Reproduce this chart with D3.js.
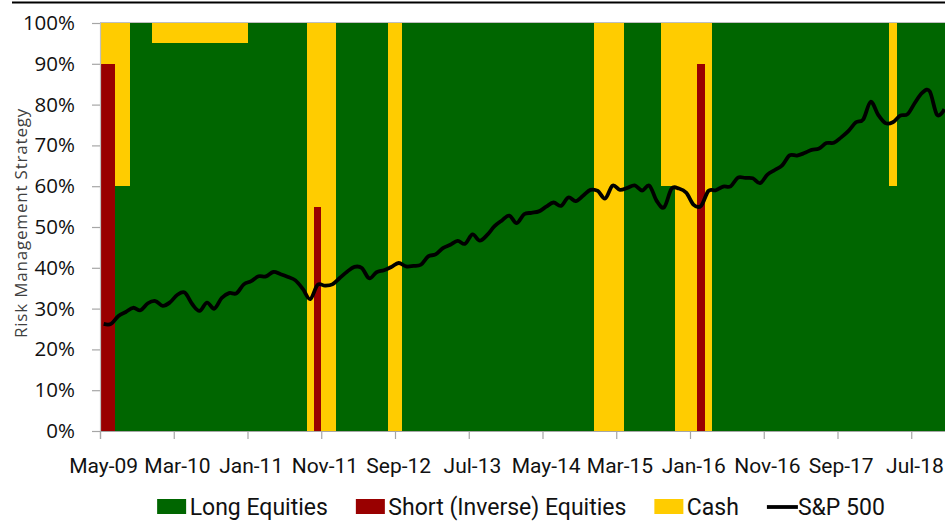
<!DOCTYPE html>
<html>
<head>
<meta charset="utf-8">
<script src="https://cdn.jsdelivr.net/npm/d3@7"></script>
<style>
  body { margin: 0; background: #fff; }
  svg { display: block; }
</style>
</head>
<body>
<div id="chart"></div>
<script>
// monthly allocation (%), May-09 .. Nov-18
const shortEq = [
  90, 90, 0, 0, 0, 0, 0, 0, 0, 0,
  0, 0, 0, 0, 0, 0, 0, 0, 0, 0,
  0, 0, 0, 0, 0, 0, 0, 0, 0, 55,
  0, 0, 0, 0, 0, 0, 0, 0, 0, 0,
  0, 0, 0, 0, 0, 0, 0, 0, 0, 0,
  0, 0, 0, 0, 0, 0, 0, 0, 0, 0,
  0, 0, 0, 0, 0, 0, 0, 0, 0, 0,
  0, 0, 0, 0, 0, 0, 0, 0, 0, 0,
  0, 90, 0, 0, 0, 0, 0, 0, 0, 0,
  0, 0, 0, 0, 0, 0, 0, 0, 0, 0,
  0, 0, 0, 0, 0, 0, 0, 0, 0, 0,
  0, 0, 0, 0, 0
];
const longEq = [
  0, 0, 60, 60, 100, 100, 100, 95, 95, 95,
  95, 95, 95, 95, 95, 95, 95, 95, 95, 95,
  100, 100, 100, 100, 100, 100, 100, 100, 0, 0,
  0, 0, 100, 100, 100, 100, 100, 100, 100, 0,
  0, 100, 100, 100, 100, 100, 100, 100, 100, 100,
  100, 100, 100, 100, 100, 100, 100, 100, 100, 100,
  100, 100, 100, 100, 100, 100, 100, 0, 0, 0,
  0, 100, 100, 100, 100, 100, 60, 60, 0, 0,
  0, 0, 0, 100, 100, 100, 100, 100, 100, 100,
  100, 100, 100, 100, 100, 100, 100, 100, 100, 100,
  100, 100, 100, 100, 100, 100, 100, 60, 100, 100,
  100, 100, 100, 100, 100
];
const cash = [
  10, 10, 40, 40, 0, 0, 0, 5, 5, 5,
  5, 5, 5, 5, 5, 5, 5, 5, 5, 5,
  0, 0, 0, 0, 0, 0, 0, 0, 100, 45,
  100, 100, 0, 0, 0, 0, 0, 0, 0, 100,
  100, 0, 0, 0, 0, 0, 0, 0, 0, 0,
  0, 0, 0, 0, 0, 0, 0, 0, 0, 0,
  0, 0, 0, 0, 0, 0, 0, 100, 100, 100,
  100, 0, 0, 0, 0, 0, 40, 40, 100, 100,
  100, 10, 100, 0, 0, 0, 0, 0, 0, 0,
  0, 0, 0, 0, 0, 0, 0, 0, 0, 0,
  0, 0, 0, 0, 0, 0, 0, 40, 0, 0,
  0, 0, 0, 0, 0
];
// S&P 500 month-end level (secondary axis, hidden)
const spx = [
  919, 919, 987, 1021, 1057, 1036, 1096, 1115,
  1074, 1104, 1169, 1187, 1089, 1031, 1102, 1049, 1141, 1183, 1181, 1258,
  1286, 1327, 1326, 1364, 1345, 1321, 1292, 1219, 1131, 1253, 1247, 1258,
  1312, 1366, 1408, 1398, 1310, 1362, 1379, 1407, 1441, 1412, 1416, 1426,
  1498, 1515, 1569, 1598, 1631, 1606, 1686, 1633, 1682, 1757, 1806, 1848,
  1783, 1859, 1872, 1884, 1924, 1960, 1931, 2003, 1972, 2018, 2068, 2059,
  1995, 2105, 2068, 2086, 2107, 2063, 2104, 1972, 1920, 2079, 2080, 2044,
  1940, 1932, 2060, 2065, 2097, 2099, 2174, 2171, 2168, 2126, 2199, 2239,
  2279, 2364, 2363, 2384, 2412, 2423, 2470, 2472, 2519, 2575, 2648, 2674,
  2824, 2714, 2641, 2648, 2705, 2718, 2816, 2902, 2914, 2712, 2760
];
const yTicks = [0, 10, 20, 30, 40, 50, 60, 70, 80, 90, 100];
const seriesNames = ["Long Equities", "Short (Inverse) Equities", "Cash", "S&P 500"];
const colors = { long: "#006600", short: "#990000", cash: "#ffcc00" };

function init() {
  const W = 945, H = 521;
  const left = 100, top = 23, bottom = 431;
  const colW = 7.375;

  const months = d3.timeMonth.range(new Date(2009, 4, 1), new Date(2018, 11, 1))
    .map(d3.timeFormat("%b-%y"));
  const n = months.length;

  const rows = months.map((m, i) => ({ m, short: shortEq[i], long: longEq[i], cash: cash[i] }));

  const svg = d3.select("#chart").append("svg")
    .attr("width", W)
    .attr("height", H);

  // black rule at the very top
  svg.append("line")
    .attr("x1", 12).attr("x2", W)
    .attr("y1", 2.5).attr("y2", 2.5)
    .attr("stroke", "#000").attr("stroke-width", 2.2);

  const x = d3.scaleBand().domain(months).range([left, left + n * colW]).padding(0);
  const xi = d3.scaleLinear().domain([0, n]).range([left, left + n * colW]);
  const y = d3.scaleLinear().domain([0, 100]).range([bottom, top]);
  const ySpx = d3.scaleLinear().domain([0, 3500]).range([bottom, top]);

  const stack = d3.stack().keys(["short", "long", "cash"]);
  const layers = stack(rows);

  svg.append("g")
    .attr("shape-rendering", "crispEdges")
    .selectAll("g")
    .data(layers)
    .join("g")
    .attr("fill", d => colors[d.key])
    .selectAll("rect")
    .data(d => d.filter(s => s[1] > s[0]))
    .join("rect")
    .attr("x", d => x(d.data.m))
    .attr("width", x.bandwidth())
    .attr("y", d => y(d[1]))
    .attr("height", d => y(d[0]) - y(d[1]));

  // plot top border
  svg.append("line")
    .attr("x1", left).attr("x2", W)
    .attr("y1", top - 0.5).attr("y2", top - 0.5)
    .attr("stroke", "#bfbfbf").attr("stroke-width", 1.2);

  // S&P 500 line
  const line = d3.line()
    .x((d, i) => x(months[i]) + x.bandwidth() / 2)
    .y(d => ySpx(d))
    .curve(d3.curveCardinal.tension(0));

  svg.append("path")
    .datum(spx)
    .attr("fill", "none")
    .attr("stroke", "#000")
    .attr("stroke-width", 3.8)
    .attr("stroke-linejoin", "round")
    .attr("d", line);

  // y axis
  const yAxis = svg.append("g")
    .attr("transform", `translate(${left},0)`)
    .call(d3.axisLeft(y).tickValues(yTicks).tickSize(8).tickPadding(17).tickFormat(d => d + "%"));
  yAxis.select(".domain").attr("stroke", "#bfbfbf").attr("stroke-width", 1.2);
  yAxis.selectAll(".tick line").attr("stroke", "#a6a6a6").attr("stroke-width", 1.2);
  yAxis.selectAll("text")
    .style("font-family", "'Open Sans', sans-serif")
    .style("font-size", "20.5px")
    .attr("fill", "#111");

  // x axis: tick marks between categories
  const xTickAxis = svg.append("g")
    .attr("transform", `translate(0,${bottom})`)
    .call(d3.axisBottom(xi).tickValues(d3.range(0, n, 10)).tickSize(8).tickFormat(""));
  xTickAxis.select(".domain").attr("stroke", "#a6a6a6").attr("stroke-width", 1.2);
  xTickAxis.selectAll(".tick line").attr("stroke", "#a6a6a6").attr("stroke-width", 1.2);

  // x axis labels centred on categories
  const xLab = svg.append("g")
    .attr("transform", `translate(0,${bottom})`)
    .call(d3.axisBottom(x).tickValues(months.filter((d, i) => i % 10 === 0)).tickSize(0).tickPadding(27));
  xLab.select(".domain").remove();
  xLab.selectAll("text")
    .style("font-family", "Roboto, sans-serif")
    .style("font-size", "21px")
    .attr("fill", "#111");

  // y axis title
  svg.append("text")
    .attr("transform", "translate(21,223) rotate(-90)")
    .attr("text-anchor", "middle")
    .attr("dy", "0.35em")
    .style("font-family", "'Open Sans', sans-serif")
    .style("font-size", "17px")
    .style("letter-spacing", "0.8px")
    .attr("fill", "#404040")
    .text("Risk Management Strategy");

  // legend
  const legend = svg.append("g").attr("transform", "translate(0,507)");
  const items = [
    { name: seriesNames[0], type: "rect", color: colors.long },
    { name: seriesNames[1], type: "rect", color: colors.short },
    { name: seriesNames[2], type: "rect", color: colors.cash },
    { name: seriesNames[3], type: "line", color: "#000" }
  ];
  let cx = 0;
  items.forEach(it => {
    const g = legend.append("g").attr("transform", `translate(${cx},0)`);
    if (it.type === "rect") {
      g.append("rect").attr("x", 0).attr("y", -8).attr("width", 29).attr("height", 15).attr("fill", it.color);
    } else {
      g.append("line").attr("x1", 0).attr("x2", 31).attr("y1", 0).attr("y2", 0)
        .attr("stroke", it.color).attr("stroke-width", 3.8);
    }
    const t = g.append("text")
      .attr("x", it.type === "rect" ? 32.5 : 31)
      .attr("dy", "0.35em")
      .style("font-family", "Roboto, sans-serif")
      .style("font-size", "23px")
      .attr("fill", "#111")
      .text(it.name);
    cx += (it.type === "rect" ? 32.5 : 31) + t.node().getComputedTextLength() + 28;
  });
  const total = cx - 28;
  legend.attr("transform", `translate(${521 - total / 2},507)`);
}

window.onload = init;
</script>
</body>
</html>
